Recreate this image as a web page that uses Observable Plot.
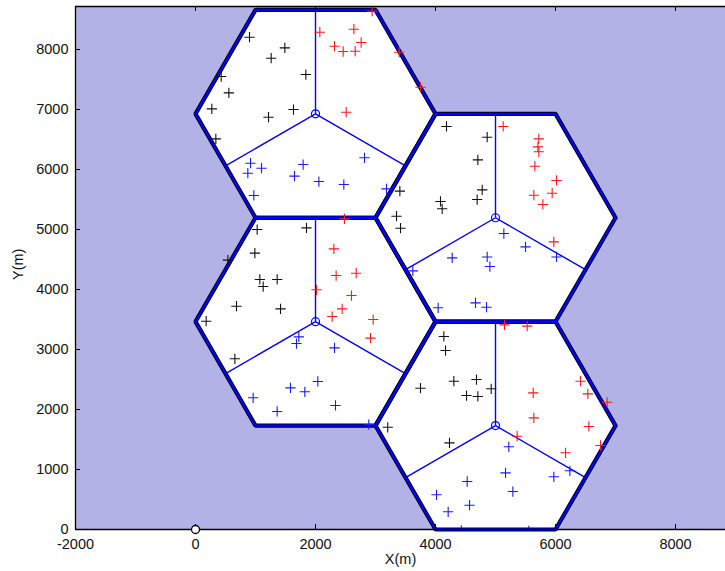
<!DOCTYPE html>
<html>
<head>
<meta charset="utf-8">
<script src="https://cdn.jsdelivr.net/npm/d3@7"></script>
<script src="https://cdn.jsdelivr.net/npm/@observablehq/plot@0.6"></script>
<style>
  html, body { margin: 0; padding: 0; background: #fff; }
  #chart svg { display: block; }
</style>
</head>
<body>
<div id="chart"></div>
<script>
// Axis ticks
const xTicks = [-2000, 0, 2000, 4000, 6000, 8000];
const yTicks = [0, 1000, 2000, 3000, 4000, 5000, 6000, 7000, 8000];

// Base-station sites (hexagon centres) and cell radius, metres
const hexCenters = [[2000, 6928], [2000, 3464], [5000, 5196], [5000, 1732]];
const cellRadius = 2000;
const origin = [[0, 0]];

// User positions per sector colour [x, y] in metres
const blackUsers = [
  [900, 8205], [1489, 8028], [1261, 7855], [1839, 7583], [428, 7550], [556, 7278], [272, 7011], [1633, 7000], [1217, 6872], [339, 6511],
  [4183, 6717], [4861, 6538], [4706, 6161], [4778, 5661], [4694, 5500], [3406, 5639], [4083, 5467], [4111, 5345], [3350, 5222], [3417, 5022],
  [1028, 5000], [1850, 5028], [989, 4606], [1072, 4167], [1361, 4167], [1128, 4050], [683, 3722], [1417, 3678], [178, 3472], [656, 2845], [540, 4490],
  [4139, 3217], [4167, 2983], [3750, 2355], [4306, 2472], [4683, 2500], [4517, 2233], [4706, 2217], [4928, 2345], [3204, 1703], [4233, 1443]
];
const redUsers = [
  [2944, 8638], [2072, 8288], [2639, 8338], [2761, 8117], [2317, 8055], [2461, 7967], [2661, 7972], [3394, 7955], [3750, 7372], [2511, 6955],
  [5128, 6717], [5722, 6511], [5706, 6378], [5722, 6295], [5656, 6055], [6017, 5817], [5639, 5572], [5944, 5605], [5789, 5417], [5972, 4794],
  [2483, 5178], [2306, 4678], [2344, 4233], [2678, 4272], [2017, 3995], [2600, 3900], [2444, 3678], [2278, 3550], [2961, 3500], [2917, 3189],
  [5150, 3411], [5528, 3389], [6417, 2472], [6539, 2261], [5628, 2278], [5639, 1861], [6556, 1717], [6750, 1400], [5361, 1555], [6167, 1278], [6860, 2120]
];
const blueUsers = [
  [917, 6105], [872, 5938], [1100, 6022], [1794, 6083], [1650, 5889], [2056, 5800], [2472, 5750], [2817, 6195], [3183, 5678], [972, 5567],
  [5139, 4933], [5500, 4710], [6017, 4543], [4861, 4543], [4906, 4383], [4278, 4528], [3622, 4310], [4044, 3695], [4667, 3778], [4850, 3705],
  [1722, 3211], [1683, 3100], [2317, 3028], [2039, 2467], [1583, 2361], [1822, 2295], [961, 2195], [2333, 2067], [1361, 1967], [2889, 1750],
  [5222, 1378], [5167, 944], [5972, 878], [6239, 978], [4528, 800], [4017, 578], [5289, 633], [4567, 405], [4211, 295], [4430, -15], [5555, -25]
];

// Layout
const W = 725, H = 571;
const mL = 75, mR = 0, mT = 6, mB = 42;
const tickLen = 5;
const xDomain = [-2000, 8833];
const yDomain = [0, 8717];

// Hexagon outlines (flat-top) and sector boundaries
const hexRings = hexCenters.flatMap(([cx, cy], id) =>
  d3.range(7).map(k => ({id, x: cx + cellRadius * Math.cos(k * Math.PI / 3), y: cy + cellRadius * Math.sin(k * Math.PI / 3)}))
);
const apothem = cellRadius * Math.cos(Math.PI / 6);
const sectorSpokes = hexCenters.flatMap(([cx, cy]) =>
  [90, 210, 330].map(a => ({x1: cx, y1: cy, x2: cx + apothem * Math.cos(a * Math.PI / 180), y2: cy + apothem * Math.sin(a * Math.PI / 180)}))
);

const users = (arr, color) => arr.map(([x, y]) => ({x, y, color}));
const allUsers = [...users(blackUsers, "#111111"), ...users(redUsers, "#ff1a1a"), ...users(blueUsers, "#1a1aff")];

const frameW = W - mL - mR, frameH = H - mT - mB;

const chart = Plot.plot({
  width: W,
  height: H,
  marginLeft: mL,
  marginRight: mR,
  marginTop: mT,
  marginBottom: mB,
  x: {domain: xDomain},
  y: {domain: yDomain},
  style: {fontFamily: "'Liberation Sans', Arial, Helvetica, sans-serif", fontSize: "14.5px", color: "#111", background: "#fff"},
  marks: [
    Plot.frame({fill: "#b2b2e6", stroke: "none"}),
    Plot.line(hexRings, {x: "x", y: "y", z: "id", fill: "white", stroke: "none"}),
    Plot.link(sectorSpokes, {x1: "x1", y1: "y1", x2: "x2", y2: "y2", stroke: "#0000ff", strokeWidth: 1.4}),
    Plot.line(hexRings, {x: "x", y: "y", z: "id", stroke: "#000000", strokeWidth: 4.2, strokeLinejoin: "miter"}),
    Plot.line(hexRings, {x: "x", y: "y", z: "id", stroke: "#0000ff", strokeWidth: 2.3, strokeLinejoin: "miter"}),
    Plot.dot(allUsers, {x: "x", y: "y", stroke: "color", symbol: "plus", r: 3.4, strokeWidth: 1.1, clip: true}),
    Plot.dot(hexCenters, {x: d => d[0], y: d => d[1], r: 4, stroke: "#0000ff", strokeWidth: 1.2, fill: "none"}),
    // axes box (left, bottom, top)
    Plot.ruleX([xDomain[0]], {stroke: "#000", strokeWidth: 1.3}),
    Plot.ruleY([yDomain[0]], {stroke: "#000", strokeWidth: 1.3}),
    Plot.ruleY([yDomain[1]], {stroke: "#000", strokeWidth: 1.3}),
    // inward tick marks
    Plot.tickX(xTicks, {x: d => d, insetTop: frameH - tickLen, stroke: "#000", strokeWidth: 1}),
    Plot.tickX(xTicks, {x: d => d, insetBottom: frameH - tickLen, stroke: "#000", strokeWidth: 1}),
    Plot.tickY(yTicks, {y: d => d, insetRight: frameW - tickLen, stroke: "#000", strokeWidth: 1}),
    Plot.dot(origin, {x: d => d[0], y: d => d[1], r: 4, stroke: "#000", strokeWidth: 1.3, fill: "white"}),
    Plot.axisX({ticks: xTicks, tickSize: 0, tickPadding: 9, label: null, tickFormat: d => String(d)}),
    Plot.axisY({ticks: yTicks, tickSize: 0, tickPadding: 7, label: null, tickFormat: d => String(d)}),
    Plot.text(["X(m)"], {frameAnchor: "bottom", dy: 34, text: d => d, fontSize: 14.5}),
    Plot.text(["Y(m)"], {frameAnchor: "left", dx: -57, dy: 12, rotate: -90, text: d => d, fontSize: 14.5})
  ]
});

document.getElementById("chart").appendChild(chart);
</script>
</body>
</html>
